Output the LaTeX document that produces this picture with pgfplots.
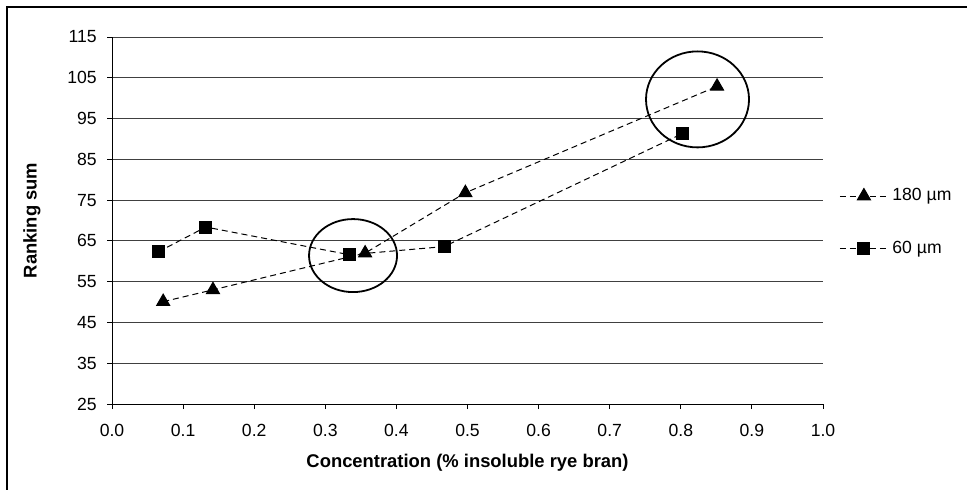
\documentclass[border=0pt]{standalone}
\usepackage{fontspec}
\setmainfont{Liberation Sans}
\usepackage{pgfplots}
\pgfplotsset{compat=1.18}
\begin{document}
\fontsize{8.8}{10.5}\selectfont
\begin{tikzpicture}
\useasboundingbox (0,0) rectangle (483.5pt,244.5pt);
\draw[line width=0.6pt] (3.5pt,-1pt) -- (3.5pt,241pt) -- (484pt,241pt);
\begin{axis}[
  at={(56pt,42.5pt)}, anchor=south west,
  scale only axis, width=355.5pt, height=183.5pt,
  xmin=0, xmax=1, ymin=25, ymax=115,
  axis x line*=bottom, axis y line*=left,
  axis line style={-, black, line width=0.5pt},
  xtick={0,0.1,0.2,0.3,0.4,0.5,0.6,0.7,0.8,0.9,1.0},
  ytick={25,35,45,55,65,75,85,95,105,115},
  tick align=outside, major tick length=2.5pt,
  tick style={black, line width=0.5pt},
  ymajorgrids, grid style={black!75, line width=0.5pt},
  /pgf/number format/assume math mode=true,
  xticklabel style={yshift=-4.5pt, /pgf/number format/.cd, fixed, fixed zerofill, precision=1},
  yticklabel style={xshift=-2pt, /pgf/number format/fixed},
  xlabel={\fontsize{9.2}{11}\selectfont\textbf{Concentration (\% insoluble rye bran)}},
  xlabel style={at={(axis description cs:0.5,-0.161)}, anchor=center},
  ylabel={\fontsize{9.2}{11}\selectfont\textbf{Ranking sum}},
  ylabel style={at={(axis description cs:-0.1125,0.5)}, anchor=center},
  legend style={draw=none, fill=none, at={(axis description cs:1.0225,0.4946)}, anchor=west, row sep=15pt, inner sep=0pt},
  legend cell align=left,
  legend image code/.code={\draw[#1, mark repeat=2, mark phase=2] plot coordinates {(0pt,0pt) (12pt,0pt) (24pt,0pt)};},
  clip=false,
]
\addplot[black, line width=0.5pt, dash pattern=on 3pt off 2pt, mark=triangle*, mark size=3.75pt, mark options={solid}]
  coordinates {(0.072,50.1) (0.142,53.0) (0.356,62.0) (0.497,76.8) (0.851,102.9)};
\addlegendentry{180 µm}
\addplot[black, line width=0.5pt, dash pattern=on 3pt off 2pt, mark=square*, mark size=3pt, mark options={solid}]
  coordinates {(0.065,62.3) (0.132,68.4) (0.334,61.6) (0.467,63.6) (0.802,91.3)};
\addlegendentry{60 µm}
\draw[line width=0.9pt] (axis cs:0.339,61.4) ellipse [x radius=22pt, y radius=18.25pt];
\draw[line width=0.9pt] (axis cs:0.8235,99.7) ellipse [x radius=25.75pt, y radius=24pt];
\end{axis}
\end{tikzpicture}
\end{document}
